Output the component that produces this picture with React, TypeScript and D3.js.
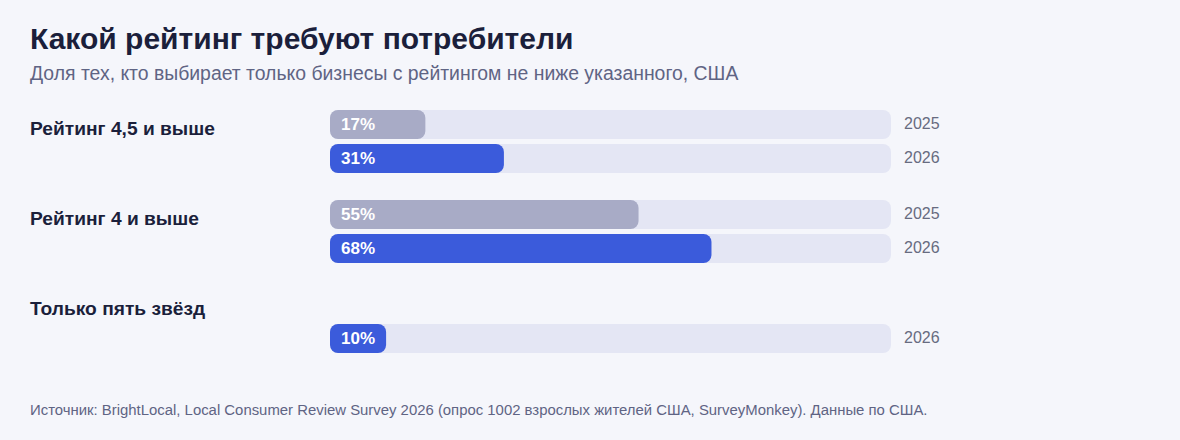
import * as d3 from 'd3'
import { FC } from 'react'

const WIDTH = 1180
const HEIGHT = 440

const TITLE = 'Какой рейтинг требуют потребители'
const SUBTITLE = 'Доля тех, кто выбирает только бизнесы с рейтингом не ниже указанного, США'
const SOURCE =
  'Источник: BrightLocal, Local Consumer Review Survey 2026 (опрос 1002 взрослых жителей США, SurveyMonkey). Данные по США.'

const categories = ['Рейтинг 4,5 и выше', 'Рейтинг 4 и выше', 'Только пять звёзд']
const years = ['2025', '2026']
const values2025: (number | null)[] = [17, 55, null]
const values2026: (number | null)[] = [31, 68, 10]

const COLORS: Record<string, string> = { '2025': '#a8abc6', '2026': '#3b5bdb' }
const TRACK = '#e4e6f4'
const BG = '#f5f6fb'
const DARK = '#1b1f3b'
const MUTED = '#5f6484'
const FONT = '"Liberation Sans", Arial, Helvetica, sans-serif'

const App: FC = () => {
  const x = d3.scaleLinear().domain([0, 100]).range([330, 891])

  const groupScale = d3.scaleBand<string>().domain(categories).range([110, 380])
  const yearScale = d3
    .scaleBand<string>()
    .domain(years)
    .range([0, 63])
    .paddingInner(5 / 34)

  const bh = yearScale.bandwidth()

  const rows = categories.flatMap((cat, i) => [
    { cat, year: '2025', value: values2025[i] },
    { cat, year: '2026', value: values2026[i] },
  ]).filter((d) => d.value != null)

  return (
    <svg
      width={WIDTH}
      height={HEIGHT}
      style={{ position: 'fixed', left: 0, top: 0, fontFamily: FONT }}
    >
      <rect width={WIDTH} height={HEIGHT} fill={BG} />
      <text x={30} y={49} fontSize={30} fontWeight='bold' fill={DARK}>{TITLE}</text>
      <text x={30} y={80} fontSize={19.4} fill={MUTED}>{SUBTITLE}</text>

      {categories.map((cat) => (
        <text
          key={cat}
          x={30}
          y={(groupScale(cat) as number) + bh / 2 + 5}
          dominantBaseline='middle'
          fontSize={19.2}
          fontWeight='bold'
          fill={DARK}
        >
          {cat}
        </text>
      ))}

      {rows.map((d) => {
        const y0 = (groupScale(d.cat) as number) + (yearScale(d.year) as number)
        const v = d.value as number
        return (
          <g key={d.cat + d.year}>
            <rect x={x(0)} y={y0} width={x(100) - x(0)} height={bh} rx={8} fill={TRACK} />
            <rect x={x(0)} y={y0} width={x(v) - x(0)} height={bh} rx={8} fill={COLORS[d.year]} />
            <text
              x={x(0) + 11}
              y={y0 + bh / 2 + 1}
              dominantBaseline='middle'
              fontSize={17}
              fontWeight='bold'
              fill='#ffffff'
            >
              {v}%
            </text>
            <text
              x={x(100) + 13}
              y={y0 + bh / 2}
              dominantBaseline='middle'
              fontSize={16}
              fill='#676b80'
            >
              {d.year}
            </text>
          </g>
        )
      })}

      <text x={30} y={415} fontSize={14.9} fill={MUTED}>{SOURCE}</text>
    </svg>
  )
}

export default App
